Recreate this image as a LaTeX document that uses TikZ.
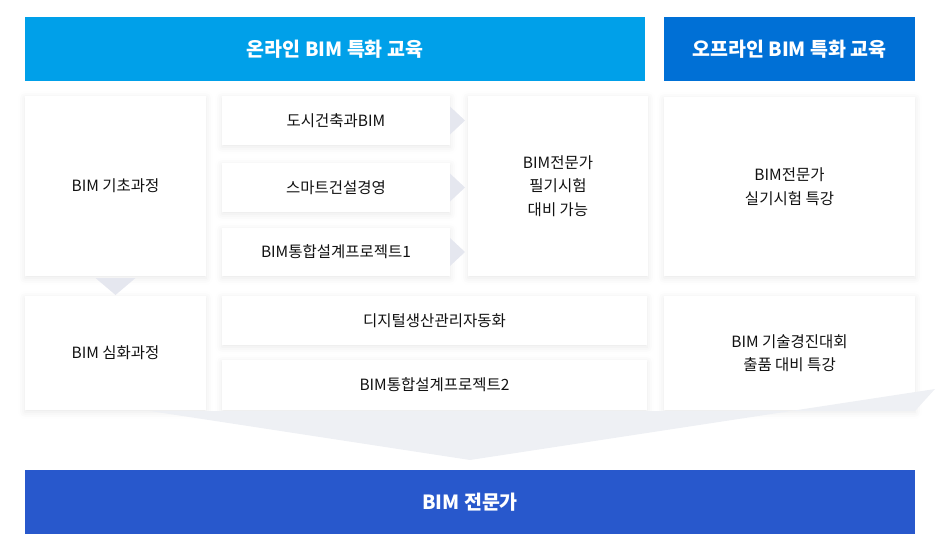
\documentclass[tikz,border=0pt]{standalone}
\usepackage{fontspec}
\setmainfont{Noto Sans CJK KR}
\usetikzlibrary{positioning,calc,shadows.blur}
\definecolor{bmOn}{HTML}{00A0E9}
\definecolor{bmOff}{HTML}{0070D6}
\definecolor{bmPro}{HTML}{2858CC}
\definecolor{bmChev}{HTML}{E5E7EF}
\definecolor{bmTxt}{HTML}{111111}
\definecolor{bmFun}{HTML}{EEF0F4}

\begin{document}
\begin{tikzpicture}[x=1pt,y=-1pt,
    every node/.style={inner sep=0pt,outer sep=0pt,anchor=north west,align=center},
    hdr/.style={text=white,font=\fontsize{19.5pt}{23pt}\selectfont\bfseries,minimum height=64pt},
    card/.style={fill=white,text=bmTxt,font=\fontsize{15.5pt}{23.5pt}\selectfont,
      blur shadow={shadow xshift=0pt,shadow yshift=-2pt,shadow blur radius=7pt,shadow opacity=9}},
    chev/.style={fill=bmChev}]
  \useasboundingbox (0,0) rectangle (940,550);
  % headers
  \node[hdr,fill=bmOn,minimum width=620pt] (on) at (25,17) {온라인 BIM 특화 교육};
  \node[hdr,fill=bmOff,minimum width=251pt] (off) at (664,17) {오프라인 BIM 특화 교육};
  % online column
  \node[card,minimum width=181pt,minimum height=180pt] (basic) at (25,96) {BIM 기초과정};
  \node[card,minimum width=181pt,minimum height=114pt] (adv) at (25,296) {BIM 심화과정};
  \node[card,minimum width=228pt,minimum height=49pt] (c1) at (222,96) {도시건축과BIM};
  \node[card,minimum width=228pt,minimum height=49pt] (c2) at (222,163) {스마트건설경영};
  \node[card,minimum width=228pt,minimum height=48pt] (c3) at (222,228) {BIM통합설계프로젝트1};
  \node[card,minimum width=180pt,minimum height=180pt] (exam) at (468,96) {BIM전문가\\필기시험\\대비 가능};
  \node[card,minimum width=425pt,minimum height=49pt] (d1) at (222,296) {디지털생산관리자동화};
  \node[card,minimum width=425pt,minimum height=50pt] (d2) at (222,360) {BIM통합설계프로젝트2};
  % offline column
  \node[card,minimum width=251pt,minimum height=179pt] (prac) at (664,97) {BIM전문가\\실기시험 특강};
  \node[card,minimum width=251pt,minimum height=114pt] (comp) at (664,296) {BIM 기술경진대회\\출품 대비 특강};
  % funnel under the cards
  \fill[bmFun] (150,411) -- (470,460) -- (935,389) -- (915,411) -- cycle;
  % goal
  \node[hdr,fill=bmPro,minimum width=890pt] (pro) at (25,470) {BIM 전문가};
  % chevrons
  \foreach \n in {c1,c2,c3}{
    \fill[chev] ($(\n.east)+(0,-14)$) -- ($(\n.east)+(15,0)$) -- ($(\n.east)+(0,14)$) -- cycle;
  }
  \fill[chev] ($(basic.south)+(-20,2)$) -- ($(basic.south)+(0,19)$) -- ($(basic.south)+(20,2)$) -- cycle;
\end{tikzpicture}
\end{document}
